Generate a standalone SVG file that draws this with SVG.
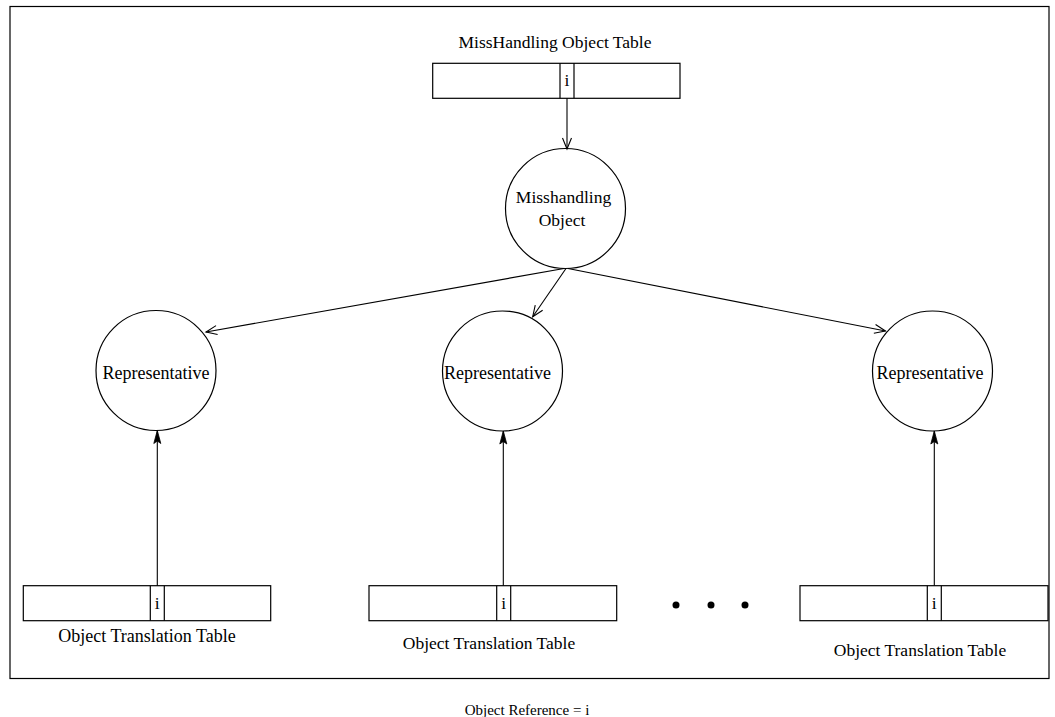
<svg xmlns="http://www.w3.org/2000/svg" width="1055" height="717" viewBox="0 0 1055 717">
<style>
.shape{fill:#fff;stroke:#000;stroke-width:1.2}
.conn{fill:none;stroke:#000;stroke-width:1.1}
text{font-family:"Liberation Serif","Times New Roman",serif;font-size:17.5px;fill:#000}
.c{text-anchor:middle}
</style>
<defs>
<marker id="open" markerUnits="userSpaceOnUse" markerWidth="14" markerHeight="12" refX="11" refY="4.5" orient="auto" overflow="visible">
<path d="M0,0 L11,4.5 L0,9" fill="none" stroke="#000" stroke-width="1.1"/>
</marker>
<marker id="filled" markerUnits="userSpaceOnUse" markerWidth="16" markerHeight="10" refX="13" refY="3.5" orient="auto" overflow="visible">
<path d="M0,0 L13,3.5 L0,7 L2.5,3.5 z" fill="#000" stroke="#000" stroke-width="0.8"/>
</marker>
</defs>
<rect x="10" y="6.5" width="1039" height="672" fill="#fff" stroke="#000" stroke-width="1.2"/>

<g id="misshandling-table">
<text class="c" x="555" y="48">MissHandling Object Table</text>
<rect class="shape" x="432.7" y="63.3" width="247.3" height="35"/>
<line class="shape" x1="560" y1="63.3" x2="560" y2="98.3"/>
<line class="shape" x1="574" y1="63.3" x2="574" y2="98.3"/>
<text class="c" x="567" y="85.5">i</text>
</g>

<g id="misshandling-object">
<circle class="shape" cx="565.5" cy="208.5" r="60"/>
<text class="c" x="563.5" y="203">Misshandling</text>
<text class="c" x="562" y="225.5">Object</text>
</g>

<g id="rep-left">
<circle class="shape" cx="156" cy="370.5" r="60"/>
<text class="c" x="156" y="379" style="font-size:18px">Representative</text>
</g>
<g id="rep-middle">
<circle class="shape" cx="502.5" cy="371" r="60"/>
<text class="c" x="497.5" y="379" style="font-size:18px">Representative</text>
</g>
<g id="rep-right">
<circle class="shape" cx="932.5" cy="371" r="60"/>
<text class="c" x="930" y="379" style="font-size:18px">Representative</text>
</g>

<g id="ott-left">
<rect class="shape" x="23.3" y="585.7" width="247.4" height="35"/>
<line class="shape" x1="150.3" y1="585.7" x2="150.3" y2="620.7"/>
<line class="shape" x1="164.3" y1="585.7" x2="164.3" y2="620.7"/>
<text class="c" x="157.3" y="609">i</text>
<text class="c" x="147" y="642" style="font-size:18px">Object Translation Table</text>
</g>
<g id="ott-middle">
<rect class="shape" x="369" y="585.7" width="247.7" height="35"/>
<line class="shape" x1="496.7" y1="585.7" x2="496.7" y2="620.7"/>
<line class="shape" x1="510.7" y1="585.7" x2="510.7" y2="620.7"/>
<text class="c" x="503.7" y="609">i</text>
<text class="c" x="489" y="649">Object Translation Table</text>
</g>
<g id="ott-right">
<rect class="shape" x="800" y="585.7" width="248" height="35"/>
<line class="shape" x1="927.3" y1="585.7" x2="927.3" y2="620.7"/>
<line class="shape" x1="941.3" y1="585.7" x2="941.3" y2="620.7"/>
<text class="c" x="934.3" y="609">i</text>
<text class="c" x="920" y="656">Object Translation Table</text>
</g>

<g id="ellipsis">
<circle cx="676" cy="605" r="3.5" fill="#000"/>
<circle cx="711" cy="605" r="3.5" fill="#000"/>
<circle cx="745" cy="605" r="3.5" fill="#000"/>
</g>

<g id="connectors">
<line class="conn" x1="567" y1="98.3" x2="567" y2="149" marker-end="url(#open)"/>
<line class="conn" x1="564" y1="268.5" x2="206" y2="332" marker-end="url(#open)"/>
<line class="conn" x1="566" y1="268.5" x2="532.7" y2="316.7" marker-end="url(#open)"/>
<line class="conn" x1="568" y1="268.5" x2="885.5" y2="331" marker-end="url(#open)"/>
<line class="conn" x1="157.3" y1="585.7" x2="157.3" y2="430.5" marker-end="url(#filled)"/>
<line class="conn" x1="503.3" y1="585.7" x2="503.3" y2="431" marker-end="url(#filled)"/>
<line class="conn" x1="934.3" y1="585.7" x2="934.3" y2="431" marker-end="url(#filled)"/>
</g>

<text class="c" x="527" y="715" style="font-size:15px">Object Reference = i</text>
</svg>
